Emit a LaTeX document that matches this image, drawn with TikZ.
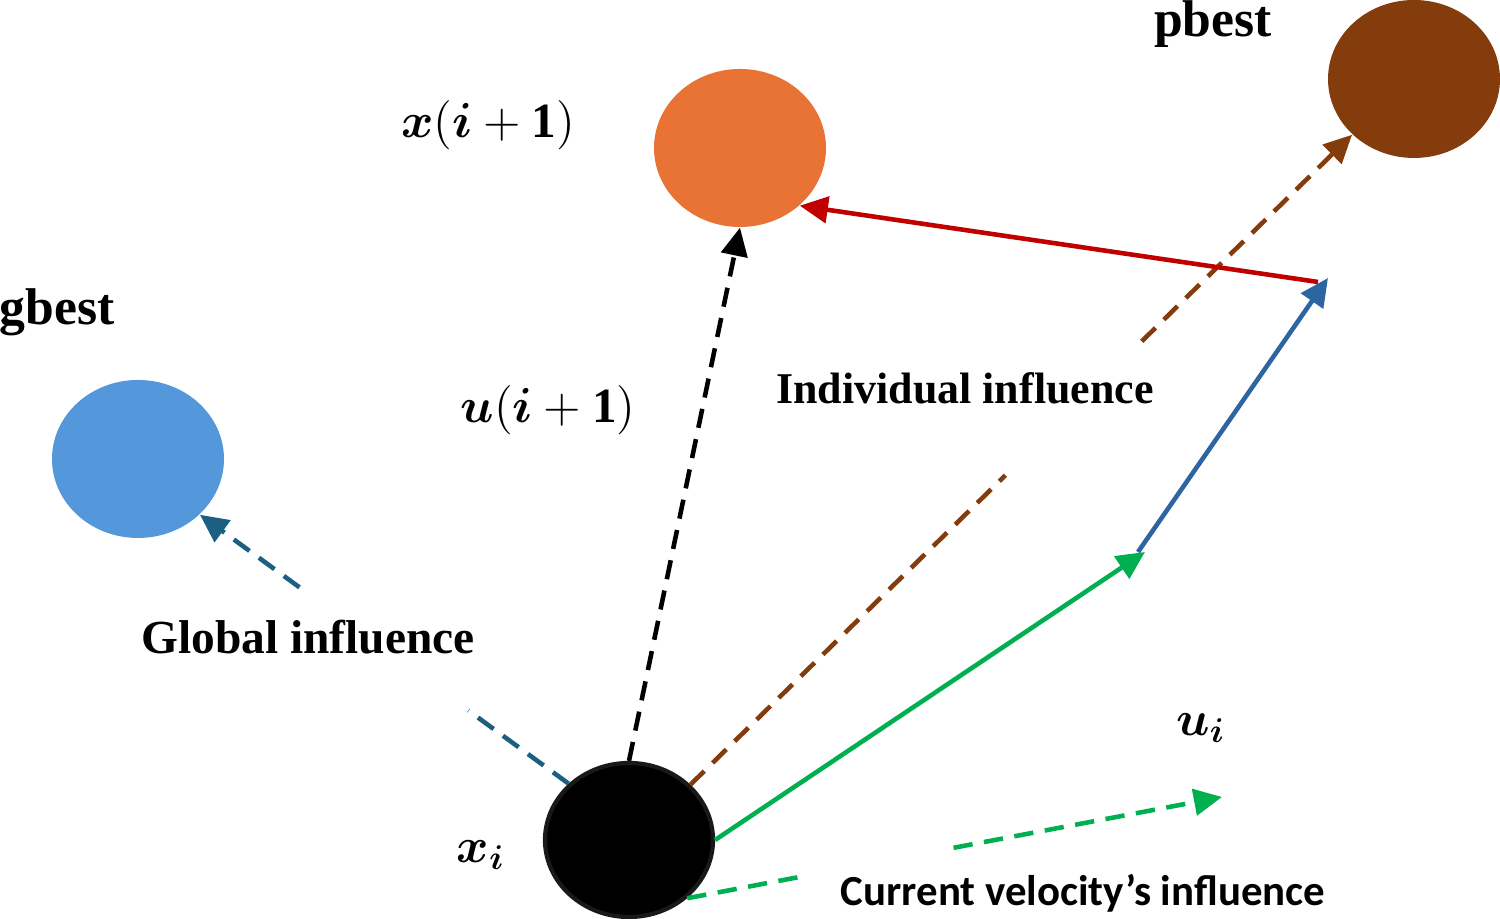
\documentclass[tikz,border=0pt]{standalone}
\usepackage{fix-cm}
\usepackage{amsmath}
\usepackage{fontspec}
\setmainfont{Liberation Serif}
\newfontfamily\calib{Carlito}
\usetikzlibrary{shapes.geometric,arrows.meta,calc}
\definecolor{orng}{HTML}{E97334}
\definecolor{brwn}{HTML}{843C0C}
\definecolor{lblue}{HTML}{5497DB}
\definecolor{tealc}{HTML}{1B5F82}
\definecolor{rd}{HTML}{C00000}
\definecolor{grn}{HTML}{00B050}
\definecolor{dblue}{HTML}{2D64A2}
\tikzset{
  ball/.style={ellipse, inner sep=0pt, minimum width=1.72cm, minimum height=1.58cm},
  conn/.style={line width=1.3pt},
  dashconn/.style={line width=1.3pt, dash pattern=on 5.5pt off 3.3pt},
  tip/.style={-{Triangle[length=8pt,width=7.5pt]}},
  lbl/.style={font=\bfseries\fontsize{12.5}{14}\selectfont, inner sep=0pt},
  bigl/.style={font=\bfseries\fontsize{14.7}{16}\selectfont, inner sep=0pt},
  mlbl/.style={font=\fontsize{14}{16}\selectfont, inner sep=0pt},
}
\begin{document}
\begin{tikzpicture}[x=1cm,y=1cm]
\useasboundingbox (0,0) rectangle (15,9.19);
% nodes (pixel coords: x/100, (919-y)/100)
\node[ball, fill=black, draw={black!90}, line width=1.2pt, minimum width=1.68cm, minimum height=1.54cm] (xi) at (6.29,0.79) {};
\node[ball, fill=orng] (xn) at (7.40,7.71) {};
\node[ball, fill=brwn] (pb) at (14.14,8.40) {};
\node[ball, fill=lblue] (gb) at (1.38,4.60) {};

\coordinate (v1) at (11.45,3.67);
\coordinate (v1s) at (11.38,3.67);
\coordinate (v2) at (13.28,6.41);
\coordinate (v2s) at (13.18,6.37);
\coordinate (cv) at (12.22,1.22);

% labels
\node[bigl] (pbl) at (12.13,8.95) {pbest};
\node[bigl] (gbl) at (0.57,6.07) {gbest};
\node[lbl] (ind) at (9.65,5.31) {Individual influence};
\node[lbl, font=\bfseries\fontsize{13.5}{15}\selectfont] (glob) at (3.08,2.82) {Global influence};
\node[inner sep=0pt, font=\calib\bfseries\fontsize{12.2}{14}\selectfont] (cur) at (10.83,0.26) {Current velocity’s influence};
\node[mlbl] (xnl) at (4.88,7.94) {$\boldsymbol{x}(\boldsymbol{i}+\mathbf{1})$};
\node[mlbl] (unl) at (5.48,5.09) {$\boldsymbol{u}(\boldsymbol{i}+\mathbf{1})$};
\node[mlbl] (xil) at (4.81,0.64) {$\boldsymbol{x}_{\boldsymbol{i}}$};
\node[mlbl] (uil) at (12.01,1.91) {$\boldsymbol{u}_{\boldsymbol{i}}$};

% connectors
\draw[dashconn, tip, black] (xi.north) -- (xn.south);
\draw[dashconn, brwn] (xi.42) -- ($(xi.42)!0.476!(pb.222)$);
\draw[dashconn, tip, brwn] ($(xi.42)!0.682!(pb.222)$) -- (pb.222);
\draw[dashconn, tealc] (xi.137) -- ($(xi.137)!0.272!(gb.318)$);
\draw[dashconn, tip, tealc] ($(xi.137)!0.730!(gb.318)$) -- (gb.318);
\draw[dashconn, grn] (xi.-45) -- ($(xi.-45)!0.216!(cv)$);
\draw[dashconn, tip, grn] ($(xi.-45)!0.498!(cv)$) -- (cv);
\draw[conn, tip, grn] (xi.east) -- (v1);
\draw[conn, tip, dblue] (v1s) -- (v2);
\draw[conn, tip, rd] (v2s) -- (xn.-44);
\end{tikzpicture}
\end{document}
